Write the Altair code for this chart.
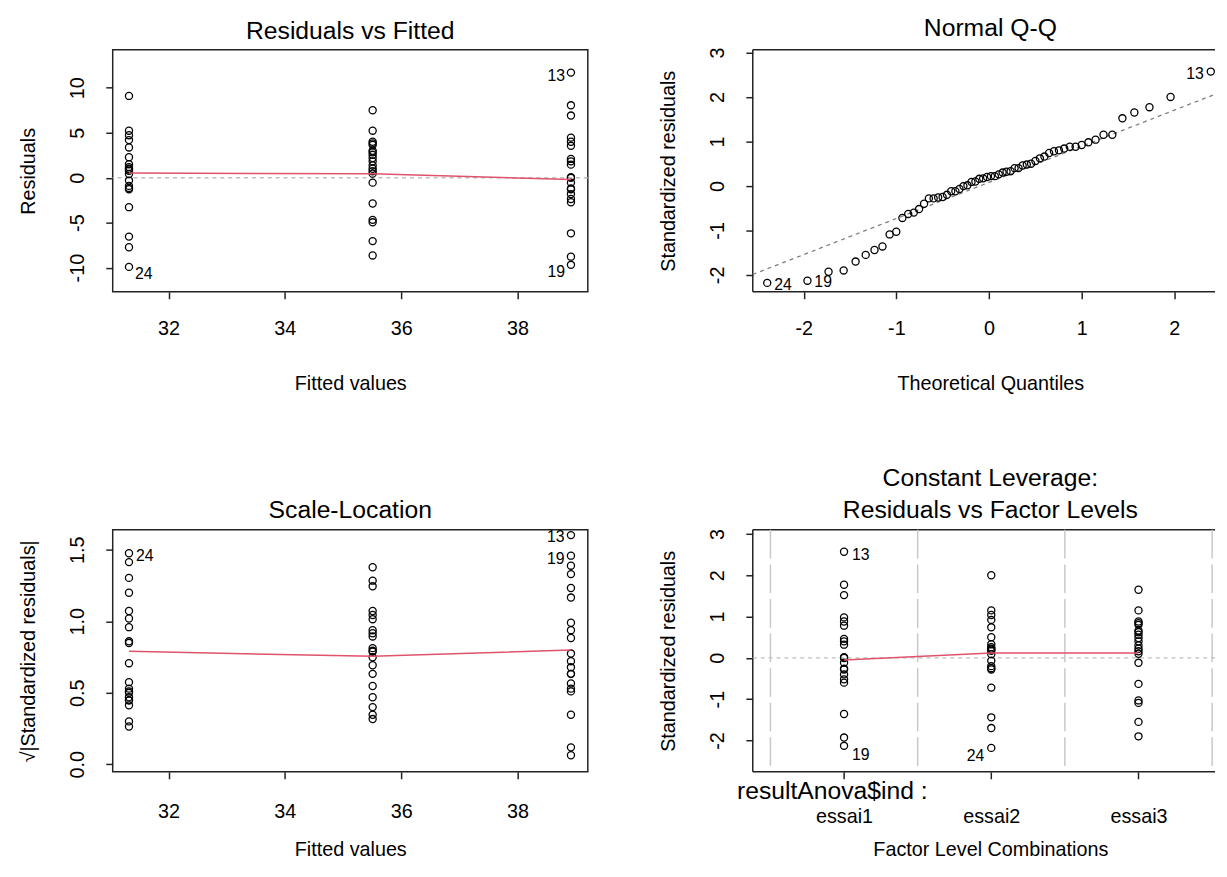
import math
import altair as alt
import pandas as pd

# ---------------- data ----------------
levels = ["essai1", "essai2", "essai3"]
fitted_by_level = [38.92, 31.32, 35.51]          # fitted value of each level

# standardized residuals of each level, in observation order (obs 1..20, 21..40, 41..60)
std_essai1 = [1.77, 1.52, 0.98, 0.88, 0.78, 0.46, 0.40, 0.32, 0.014, -0.004,
              -0.12, -0.26, 2.57, -0.28, -0.40, -0.52, -0.60, -1.36, -2.13, -1.93]
std_essai2 = [2.00, 1.15, 1.04, -2.18, 0.92, 0.74, 0.50, 0.33, 0.26, 0.22,
              0.20, 0.17, 0.09, -0.07, -0.20, -0.25, -0.28, -0.72, -1.44, -1.70]
std_essai3 = [1.65, 1.15, 0.88, 0.84, 0.80, 0.66, 0.62, 0.56, 0.48, 0.40,
              0.30, 0.22, 0.16, 0.10, -0.12, -0.63, -1.03, -1.09, -1.55, -1.90]
resid_per_std = 4.55                              # residual / standardized residual

theoretical_q = [-2.394, -1.960, -1.732, -1.569, -1.440, -1.331, -1.236, -1.150, -1.073, -1.001,
                 -0.935, -0.872, -0.812, -0.755, -0.701, -0.649, -0.598, -0.549, -0.501, -0.454,
                 -0.408, -0.363, -0.319, -0.276, -0.233, -0.189, -0.147, -0.105, -0.063, -0.021,
                 0.021, 0.063, 0.105, 0.147, 0.189, 0.233, 0.276, 0.319, 0.363, 0.408,
                 0.454, 0.501, 0.549, 0.598, 0.649, 0.701, 0.755, 0.812, 0.872, 0.935,
                 1.001, 1.073, 1.150, 1.236, 1.331, 1.440, 1.569, 1.732, 1.960, 2.394]

smooth_fitted = [31.32, 35.51, 38.92]
smooth_resid = [0.52, 0.44, -0.20]
smooth_sqrt = [0.79, 0.755, 0.80]
smooth_level_pos = [1, 2, 3]
smooth_std = [-0.05, 0.12, 0.12]

qq_line_x = [-2.55, 2.44]
qq_line_y = [-1.99, 2.06]

level_separators = [0.5, 1.5, 2.5, 3.5]
factor_name = "resultAnova$ind"

# ---------------- tables ----------------
rows = []
for k, vals in enumerate([std_essai1, std_essai2, std_essai3]):
    for i, s in enumerate(vals):
        rows.append({
            "obs": k * 20 + i + 1,
            "level": levels[k],
            "pos": k + 1,
            "fitted": fitted_by_level[k],
            "std": s,
            "resid": s * resid_per_std,
            "sqrtabs": math.sqrt(abs(s)),
        })
df = pd.DataFrame(rows)
df = df.sort_values("std").reset_index(drop=True)
df["theo"] = theoretical_q
df["lab"] = df["obs"].astype(str)

smooth1 = pd.DataFrame({"fitted": smooth_fitted, "resid": smooth_resid})
smooth3 = pd.DataFrame({"fitted": smooth_fitted, "sqrtabs": smooth_sqrt})
smooth4 = pd.DataFrame({"pos": smooth_level_pos, "std": smooth_std})
qqline = pd.DataFrame({"theo": qq_line_x, "std": qq_line_y})
seps = pd.DataFrame({"pos": level_separators})
fname = pd.DataFrame({"t": [factor_name + " :"]})
one = pd.DataFrame({"k": [0]})

# ---------------- style ----------------
FONT = "Liberation Sans"
W, WR, H = 481, 468, 245
RED = "#DF536B"
LIGHTGRAY = "#BEBEBE"
FRAME = "#222222"
MINUS_FIX = "replace(datum.label, '\u2212', '-')"


def xax(title, values, title_y, label_pad, expr=MINUS_FIX):
    return alt.Axis(title=title, values=values, labelBaseline="alphabetic", labelPadding=label_pad,
                    titleBaseline="alphabetic", titleY=title_y, titleX=W / 2, labelExpr=expr)


def yax(title, values, fmt=None):
    kw = dict(title=title, values=values, labelAngle=270, labelAlign="center",
              labelBaseline="alphabetic", labelPadding=22.5, labelExpr=MINUS_FIX,
              titleBaseline="alphabetic", titleX=-79, titleY=H / 2, titleAngle=270)
    if fmt:
        kw["format"] = fmt
    return alt.Axis(**kw)


def make_enc(field, dom, axis, ch):
    sc = alt.Scale(domain=dom, nice=False, zero=False)
    if ch == "x":
        return alt.X(field, type="quantitative", scale=sc, axis=axis)
    return alt.Y(field, type="quantitative", scale=sc, axis=axis)


def points(data, x, y):
    return alt.Chart(data).mark_point(shape="circle", filled=False, color="black",
                                      size=52, strokeWidth=1.3, opacity=1).encode(x=x, y=y)


def id_label(data, x, y, obs, align, dx, dy):
    return alt.Chart(data).transform_filter(alt.datum.obs == obs).mark_text(
        align=align, baseline="middle", dx=dx, dy=dy, font=FONT, fontSize=16, color="black"
    ).encode(x=x, y=y, text="lab:N")


def hzero(y_enc_fn):
    return alt.Chart(pd.DataFrame({"zero_line": [0]})).mark_rule(
        color=LIGHTGRAY, strokeDash=[4, 4], strokeWidth=1.5).encode(y=y_enc_fn("zero_line"))


def open_frame(width):
    """top, left and bottom sides of the box (right side lies beyond the page edge)"""
    base = alt.Chart(one).mark_rule(color=FRAME, strokeWidth=1.5)
    return [
        base.encode(x=alt.value(0), x2=alt.value(width), y=alt.value(0)),
        base.encode(x=alt.value(0), x2=alt.value(width), y=alt.value(H)),
        base.encode(x=alt.value(0), y=alt.value(0), y2=alt.value(H)),
    ]


# ---------- panel 1: Residuals vs Fitted ----------
dx1, dy1 = [31.04, 39.21], [-12.69, 14.23]
ax1x = xax("Fitted values", [32, 34, 36, 38], 99, 36)
ax1y = yax("Residuals", [-10, -5, 0, 5, 10])
X1 = lambda f: make_enc(f, dx1, ax1x, "x")
Y1 = lambda f: make_enc(f, dy1, ax1y, "y")
p1 = alt.layer(
    hzero(Y1),
    points(df, X1("fitted"), Y1("resid")),
    alt.Chart(smooth1).mark_line(color=RED, strokeWidth=1.5).encode(x=X1("fitted"), y=Y1("resid")),
    id_label(df, X1("fitted"), Y1("resid"), 24, "left", 6, 7),
    id_label(df, X1("fitted"), Y1("resid"), 13, "right", -6, 3),
    id_label(df, X1("fitted"), Y1("resid"), 19, "right", -6, 7),
).properties(width=W, height=H, title="Residuals vs Fitted")

# ---------- panel 2: Normal Q-Q ----------
dx2, dy2 = [-2.55, 2.44], [-2.38, 3.06]
ax2x = xax("Theoretical Quantiles", [-2, -1, 0, 1, 2], 99, 36)
ax2y = yax("Standardized residuals", [-2, -1, 0, 1, 2, 3])
X2 = lambda f: make_enc(f, dx2, ax2x, "x")
Y2 = lambda f: make_enc(f, dy2, ax2y, "y")
p2 = alt.layer(
    *open_frame(WR),
    alt.Chart(qqline).mark_line(color="#7F7F7F", strokeDash=[4, 4], strokeWidth=1.3).encode(
        x=X2("theo"), y=Y2("std")),
    points(df, X2("theo"), Y2("std")),
    id_label(df, X2("theo"), Y2("std"), 24, "left", 7, 2),
    id_label(df, X2("theo"), Y2("std"), 19, "left", 7, 1),
    id_label(df, X2("theo"), Y2("std"), 13, "right", -7, 3),
).properties(width=WR, height=H, view=alt.ViewBackground(stroke="transparent"),
             title=alt.TitleParams(text="Normal Q-Q", dx=6.5))

# ---------- panel 3: Scale-Location ----------
dy3 = [-0.053, 1.64]
ax3x = xax("Fitted values", [32, 34, 36, 38], 85, 39)
ax3y = yax("√|Standardized residuals|", [0, 0.5, 1.0, 1.5], fmt=".1f")
X3 = lambda f: make_enc(f, dx1, ax3x, "x")
Y3 = lambda f: make_enc(f, dy3, ax3y, "y")
p3 = alt.layer(
    points(df, X3("fitted"), Y3("sqrtabs")),
    alt.Chart(smooth3).mark_line(color=RED, strokeWidth=1.5).encode(x=X3("fitted"), y=Y3("sqrtabs")),
    id_label(df, X3("fitted"), Y3("sqrtabs"), 24, "left", 7, 3),
    id_label(df, X3("fitted"), Y3("sqrtabs"), 13, "right", -6.5, 1.5),
    id_label(df, X3("fitted"), Y3("sqrtabs"), 19, "right", -6.5, 3),
).properties(width=W, height=H, title="Scale-Location")

# ---------- panel 4: Residuals vs Factor Levels ----------
dx4, dy4 = [0.38, 3.52], [-2.76, 3.10]
lvl_expr = "[" + ",".join("'%s'" % l for l in levels) + "][datum.value - 1]"
ax4x = xax("Factor Level Combinations", [1, 2, 3], 85, 44, expr=lvl_expr)
ax4y = yax("Standardized residuals", [-2, -1, 0, 1, 2, 3])
X4 = lambda f: make_enc(f, dx4, ax4x, "x")
Y4 = lambda f: make_enc(f, dy4, ax4y, "y")
p4 = alt.layer(
    *open_frame(WR),
    alt.Chart(seps).mark_rule(color="#C8C8C8", strokeDash=[29, 6], strokeWidth=1.5).encode(x=X4("pos")),
    hzero(Y4),
    points(df, X4("pos"), Y4("std")),
    alt.Chart(smooth4).mark_line(color=RED, strokeWidth=1.5).encode(x=X4("pos"), y=Y4("std")),
    id_label(df, X4("pos"), Y4("std"), 13, "left", 8, 3),
    id_label(df, X4("pos"), Y4("std"), 19, "left", 8, 9),
    id_label(df, X4("pos"), Y4("std"), 24, "right", -7, 8),
    alt.Chart(fname).mark_text(align="left", baseline="alphabetic", font=FONT, fontSize=25,
                               color="black").encode(x=alt.value(-16), y=alt.value(H + 27), text="t:N"),
).properties(width=WR, height=H, view=alt.ViewBackground(stroke="transparent"),
             title=alt.TitleParams(text=["Constant Leverage:", "Residuals vs Factor Levels"],
                                   lineHeight=32, dx=6.5))

chart = alt.concat(p1, p2, p3, p4, columns=2, spacing={"row": 241, "column": 167}, bounds="flush").properties(
    padding={"left": 10, "top": 2, "right": 0, "bottom": 0}
).configure_view(stroke=FRAME, strokeWidth=1.5).configure_axis(
    labelFont=FONT, titleFont=FONT, labelFontSize=20, titleFontSize=20, titleFontWeight="normal",
    labelColor="black", titleColor="black", tickColor=FRAME, tickWidth=1.5, tickSize=7,
    domain=False, grid=False, labelFlush=False, labelOverlap=False,
).configure_title(
    font=FONT, fontSize=25, fontWeight="normal", color="black", anchor="middle", frame="group",
    baseline="bottom", offset=6,
)

chart.save("out.html", embed_options={"renderer": "svg", "actions": False})
